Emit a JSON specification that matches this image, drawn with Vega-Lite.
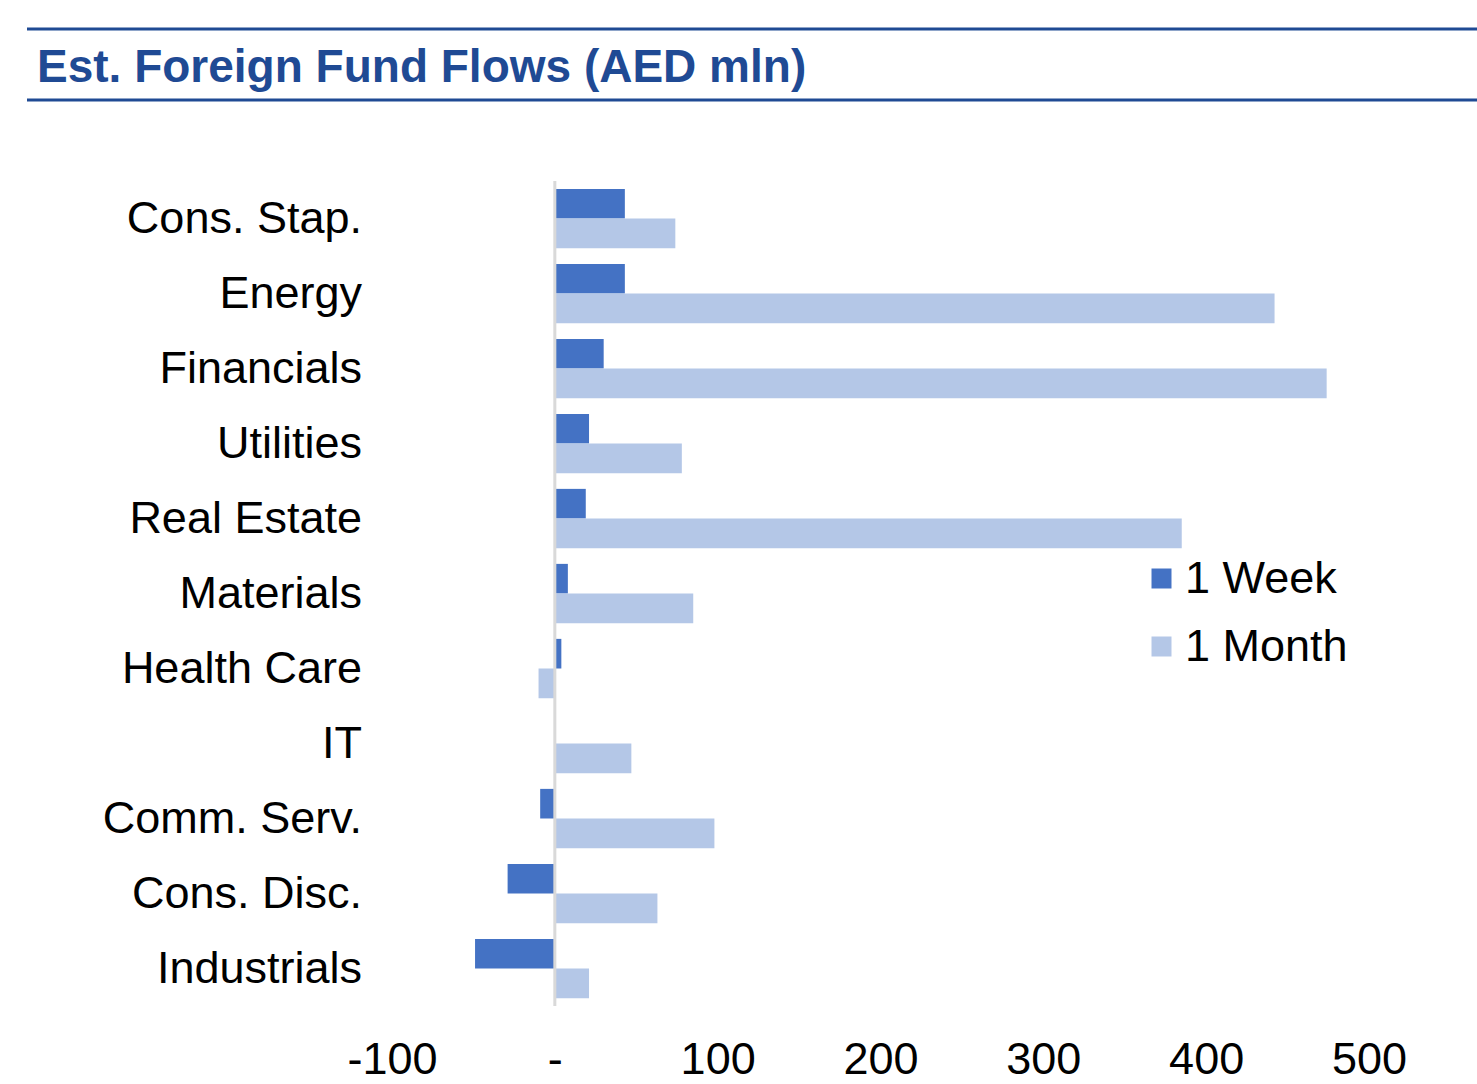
{
  "$schema": "https://vega.github.io/schema/vega-lite/v6.json",
  "padding": {"left": 25, "top": 27, "right": 0, "bottom": 0},
  "background": "white",
  "config": {
    "view": {"stroke": null},
    "font": "Liberation Sans, Arial, sans-serif"
  },
  "spacing": 77,
  "datasets": {
    "flows": [
      {"sector": "Cons. Stap.", "period": "1 Week", "value": 43},
      {"sector": "Cons. Stap.", "period": "1 Month", "value": 74},
      {"sector": "Energy", "period": "1 Week", "value": 43},
      {"sector": "Energy", "period": "1 Month", "value": 442},
      {"sector": "Financials", "period": "1 Week", "value": 30},
      {"sector": "Financials", "period": "1 Month", "value": 474},
      {"sector": "Utilities", "period": "1 Week", "value": 21},
      {"sector": "Utilities", "period": "1 Month", "value": 78},
      {"sector": "Real Estate", "period": "1 Week", "value": 19},
      {"sector": "Real Estate", "period": "1 Month", "value": 385},
      {"sector": "Materials", "period": "1 Week", "value": 8},
      {"sector": "Materials", "period": "1 Month", "value": 85},
      {"sector": "Health Care", "period": "1 Week", "value": 4},
      {"sector": "Health Care", "period": "1 Month", "value": -10},
      {"sector": "IT", "period": "1 Week", "value": -0.5},
      {"sector": "IT", "period": "1 Month", "value": 47},
      {"sector": "Comm. Serv.", "period": "1 Week", "value": -9},
      {"sector": "Comm. Serv.", "period": "1 Month", "value": 98},
      {"sector": "Cons. Disc.", "period": "1 Week", "value": -29},
      {"sector": "Cons. Disc.", "period": "1 Month", "value": 63},
      {"sector": "Industrials", "period": "1 Week", "value": -49},
      {"sector": "Industrials", "period": "1 Month", "value": 21}
    ]
  },
  "vconcat": [
    {
      "width": 1452,
      "height": 71,
      "data": {"values": [{"title": "Est. Foreign Fund Flows (AED mln)"}]},
      "layer": [
        {
          "mark": {"type": "rule", "color": "#1F4A94", "strokeWidth": 3},
          "encoding": {"y": {"datum": 0, "type": "quantitative", "scale": {"domain": [0, 1]}, "axis": null}}
        },
        {
          "mark": {"type": "rule", "color": "#1F4A94", "strokeWidth": 3},
          "encoding": {"y": {"datum": 1, "type": "quantitative"}}
        },
        {
          "mark": {"type": "text", "align": "left", "baseline": "middle", "fontSize": 46, "fontWeight": "bold", "color": "#1F4A94", "dx": 10, "dy": 3},
          "encoding": {
            "x": {"datum": 0, "type": "quantitative", "scale": {"domain": [0, 1]}, "axis": null},
            "y": {"datum": 0.5, "type": "quantitative"},
            "text": {"field": "title"}
          }
        }
      ]
    },
    {
      "spacing": 30,
      "bounds": "flush",
      "hconcat": [
        {
          "width": 335,
          "height": 825,
          "data": {"name": "flows"},
          "transform": [{"filter": "datum.period == '1 Week'"}],
          "mark": {"type": "text", "align": "right", "baseline": "middle", "fontSize": 45, "color": "black"},
          "encoding": {
            "y": {
              "field": "sector",
              "type": "nominal",
              "sort": null,
              "scale": {"paddingInner": 0.21, "paddingOuter": 0.105},
              "axis": null
            },
            "x": {"datum": 1, "type": "quantitative", "scale": {"domain": [0, 1]}, "axis": null},
            "text": {"field": "sector"}
          }
        },
        {
          "width": 977,
          "height": 825,
          "data": {"name": "flows"},
          "layer": [
            {
              "mark": {"type": "bar"},
              "encoding": {
                "y": {
                  "field": "sector",
                  "type": "nominal",
                  "sort": null,
                  "scale": {"paddingInner": 0.21, "paddingOuter": 0.105},
                  "axis": null
                },
                "yOffset": {
                  "field": "period",
                  "type": "nominal",
                  "sort": ["1 Week", "1 Month"],
                  "scale": {"paddingInner": 0, "paddingOuter": 0}
                },
                "x": {
                  "field": "value",
                  "type": "quantitative",
                  "scale": {"domain": [-100, 500], "nice": false, "zero": false},
                  "axis": {
                    "title": null,
                    "values": [-100, 0, 100, 200, 300, 400, 500],
                    "labelExpr": "datum.value == 0 ? '-' : (datum.value < 0 ? '-' + abs(datum.value) : '' + datum.value)",
                    "domain": false,
                    "ticks": false,
                    "tickSize": 0,
                    "grid": false,
                    "labelFontSize": 45,
                    "labelPadding": 31,
                    "labelColor": "black",
                    "labelFlush": false
                  }
                },
                "color": {
                  "field": "period",
                  "type": "nominal",
                  "scale": {"domain": ["1 Week", "1 Month"], "range": ["#4472C4", "#B4C7E7"]},
                  "legend": {
                    "orient": "none",
                    "legendX": 1112,
                    "legendY": 527,
                    "title": null,
                    "labelFontSize": 45,
                    "labelColor": "black",
                    "labelLimit": 0,
                    "symbolType": "square",
                    "symbolSize": 400,
                    "symbolStrokeWidth": 0,
                    "rowPadding": 22,
                    "labelOffset": 1,
                    "padding": 0
                  }
                }
              }
            },
            {
              "data": {"values": [{"zero": 0}]},
              "mark": {"type": "rule", "color": "#D9D9D9", "strokeWidth": 3},
              "encoding": {"x": {"field": "zero", "type": "quantitative"}}
            }
          ]
        }
      ]
    }
  ]
}
